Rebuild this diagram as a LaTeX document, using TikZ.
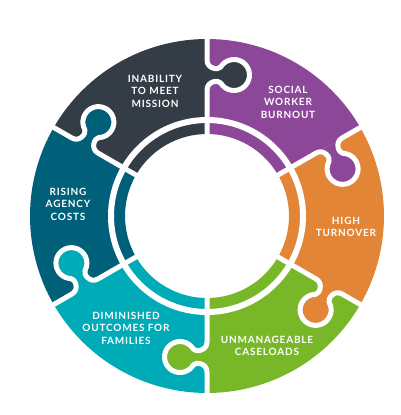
\documentclass[tikz,border=0pt]{standalone}
\usepackage{fontspec}
\newfontfamily\puzzlefont{Lato}[LetterSpace=8]
\usetikzlibrary{calc}
\definecolor{slate}{HTML}{343C46}
\definecolor{plum}{HTML}{8C4799}
\definecolor{orng}{HTML}{E28536}
\definecolor{lime}{HTML}{78B828}
\definecolor{aqua}{HTML}{00ABB8}
\definecolor{petrol}{HTML}{00607A}
\tikzset{
  gapline/.style={white,line width=5pt,line join=round,line cap=butt},
  piecelabel/.style={text=white,align=center,inner sep=0pt,
    font=\puzzlefont\bfseries\fontsize{10}{12.5}\selectfont}
}
% one edge of a piece, radial along x, tab bulging to -y
\newcommand{\tabedge}{(156,0) .. controls (147,0) and (145.6,-11.6) .. (149,-13.7)
  arc[start angle=58.9,end angle=-238.9,radius=15.5pt]
  .. controls (136.4,-11.6) and (135,0) .. (126,0)}

\begin{document}
\begin{tikzpicture}[x=1pt,y=1pt]
\pgfmathsetmacro{\rIn}{82}
\pgfmathsetmacro{\rOut}{177}
\pgfmathsetmacro{\rGap}{96}
\useasboundingbox (-207,-199) rectangle (193,216);
%ring pieces
\foreach \a/\c in {90/slate,150/petrol,210/aqua,270/lime,330/orng,30/plum}{
  \fill[\c] (\a:\rIn pt) arc[start angle=\a,end angle=\a+60,radius=\rIn pt]
    -- (\a+60:\rOut pt) arc[start angle=\a+60,end angle=\a,radius=\rOut pt] -- cycle;
}
%tabs
\foreach \a/\c in {90/slate,150/petrol,210/aqua,270/lime,330/orng,30/plum}{
  \begin{scope}[rotate=\a]
  \fill[\c] \tabedge -- cycle;
  \end{scope}
}
%white cuts
\foreach \a in {90,150,210,270,330,30}{
  \begin{scope}[rotate=\a]
  \draw[gapline] (\rOut+3,0) -- \tabedge -- (\rIn-3,0);
  \end{scope}
}
\draw[white,line width=6pt] (0,0) circle[radius=\rGap pt];
%
\node[piecelabel] (mission) at (-52,125) {INABILITY\\TO MEET\\MISSION};
\node[piecelabel] (burnout) at (81,114) {SOCIAL\\WORKER\\BURNOUT};
\node[piecelabel] (turnover) at (139,-11) {HIGH\\TURNOVER};
\node[piecelabel] (caseloads) at (60,-130) {UNMANAGEABLE\\CASELOADS};
\node[piecelabel] (outcomes) at (-81,-112) {DIMINISHED\\OUTCOMES FOR\\FAMILIES};
\node[piecelabel] (costs) at (-139,12) {RISING\\AGENCY\\COSTS};
\end{tikzpicture}
\end{document}
